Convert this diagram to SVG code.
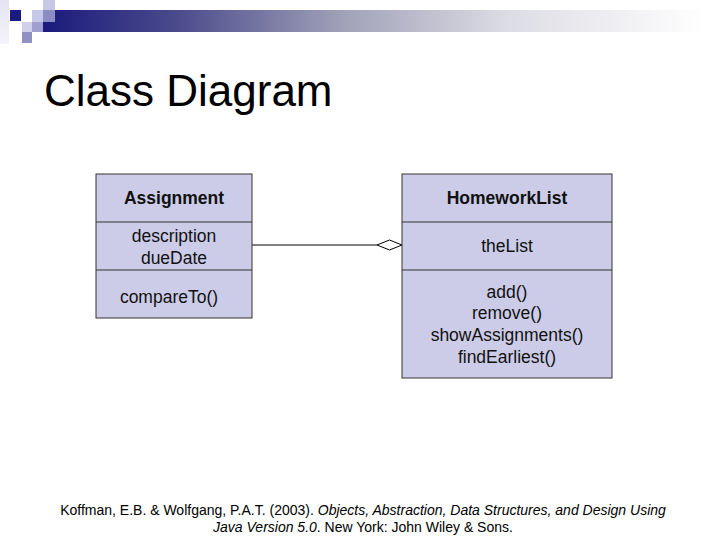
<svg xmlns="http://www.w3.org/2000/svg" width="720" height="540" viewBox="0 0 720 540">
<defs>
<linearGradient id="bar" x1="0" y1="0" x2="1" y2="0">
<stop offset="0" stop-color="#1a1a7c"/>
<stop offset="0.2" stop-color="#4a4a8c"/>
<stop offset="0.45" stop-color="#a0a0b8"/>
<stop offset="0.7" stop-color="#dcdce4"/>
<stop offset="1" stop-color="#ffffff"/>
</linearGradient>
<linearGradient id="side" x1="0" y1="0" x2="0" y2="1">
<stop offset="0" stop-color="#e4e4f4"/>
<stop offset="1" stop-color="#f4f4fa"/>
</linearGradient>
<style>
.box{fill:#cccce8;stroke:#333;stroke-width:1}
.div{stroke:#333;stroke-width:1}
.t{font-family:"Liberation Sans",Arial,sans-serif;font-size:17.5px;fill:#111;text-anchor:middle}
.b{font-weight:bold}
.conn{stroke:#000;stroke-width:1;fill:none}
.ref{font-family:"Liberation Sans",Arial,sans-serif;font-size:14px;fill:#000;text-anchor:middle}
</style>
</defs>
<g id="decoration">
<rect x="0" y="0" width="9" height="44" fill="url(#side)"/>
<rect x="43" y="10" width="662" height="22" fill="url(#bar)"/>
<rect x="10" y="10" width="11" height="11" fill="#1a1a80"/>
<rect x="32" y="10" width="11" height="12" fill="#c8c8e8"/>
<rect x="43" y="0" width="12" height="10" fill="#c8c8e4"/>
<rect x="43" y="10" width="12" height="12" fill="#8c8cc4"/>
<rect x="22" y="22" width="10" height="10" fill="#d0d0ec"/>
<rect x="32" y="22" width="11" height="10" fill="#a0a0d0"/>
<rect x="22" y="32" width="10" height="11" fill="#9090c4"/>
</g>
<text x="44" y="106" font-family="Liberation Sans, Arial, sans-serif" font-size="44" fill="#000">Class Diagram</text>
<g id="connectors">
<line class="conn" x1="252" y1="245" x2="377" y2="245"/>
<polygon class="conn" points="377,245 389.5,240 402,245 389.5,250" fill="#fff"/>
</g>
<g id="Assignment">
<rect class="box" x="96" y="174" width="156" height="144"/>
<line class="div" x1="96" y1="222" x2="252" y2="222"/>
<line class="div" x1="96" y1="270" x2="252" y2="270"/>
<text class="t b" x="174" y="204">Assignment</text>
<text class="t" x="174" y="242">description</text>
<text class="t" x="174" y="264">dueDate</text>
<text class="t" x="169" y="303">compareTo()</text>
</g>
<g id="HomeworkList">
<rect class="box" x="402" y="174" width="210" height="204"/>
<line class="div" x1="402" y1="222" x2="612" y2="222"/>
<line class="div" x1="402" y1="270" x2="612" y2="270"/>
<text class="t b" x="507" y="204">HomeworkList</text>
<text class="t" x="507" y="252">theList</text>
<text class="t" x="507" y="298">add()</text>
<text class="t" x="507" y="319">remove()</text>
<text class="t" x="507" y="341">showAssignments()</text>
<text class="t" x="507" y="363">findEarliest()</text>
</g>
<g id="reference">
<text class="ref" x="363" y="515">Koffman, E.B. &amp; Wolfgang, P.A.T. (2003). <tspan font-style="italic">Objects, Abstraction, Data Structures, and Design Using</tspan></text>
<text class="ref" x="363" y="532"><tspan font-style="italic">Java Version 5.0</tspan>. New York: John Wiley &amp; Sons.</text>
</g>
</svg>
